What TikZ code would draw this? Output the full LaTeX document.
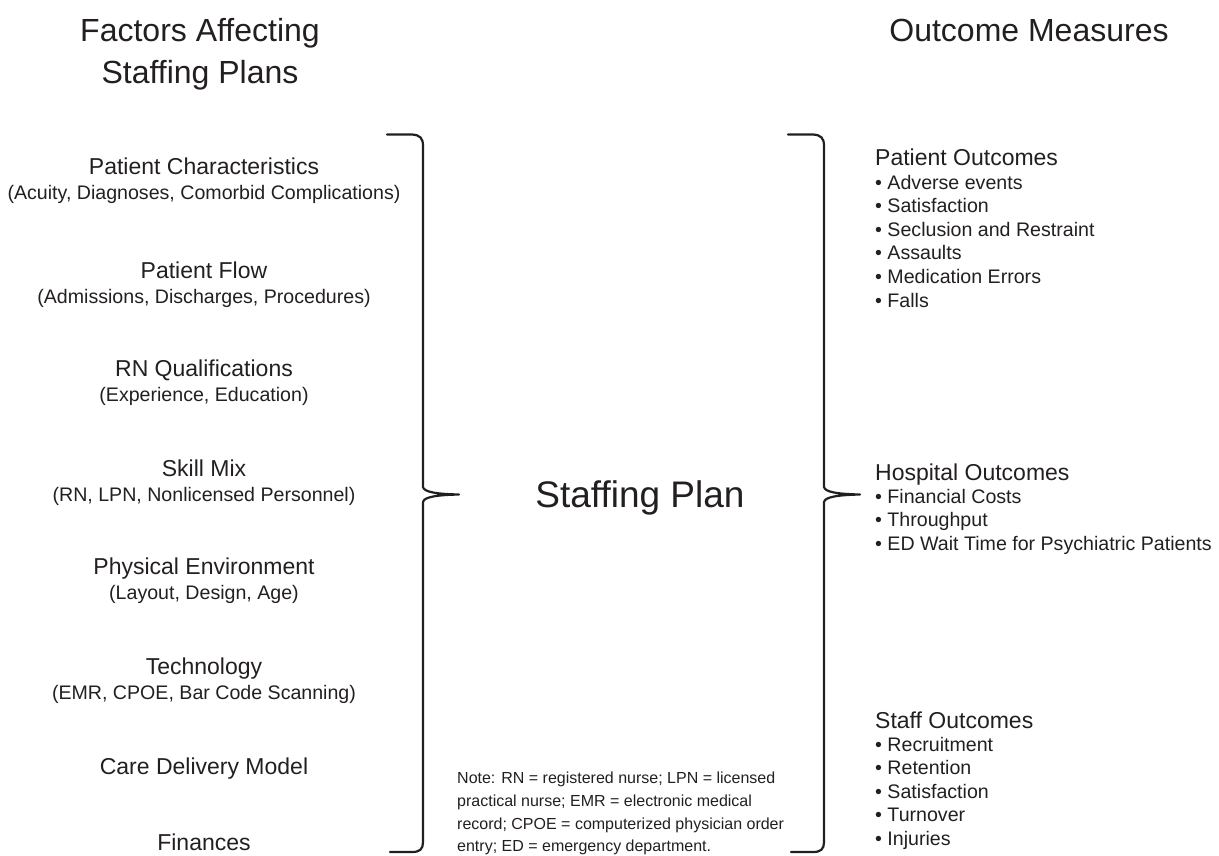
\documentclass[tikz,border=0pt]{standalone}
\usepackage{fontspec}
\setmainfont{Liberation Sans}
\definecolor{ink}{HTML}{231F20}
\begin{document}
\begin{tikzpicture}[x=1pt,y=-1pt,
  every node/.style={text=ink, inner sep=0pt},
  bigtitle/.style={font=\fontsize{32}{38}\selectfont, anchor=base},
  centretitle/.style={font=\fontsize{37}{44}\selectfont, anchor=base},
  factor/.style={font=\fontsize{23}{27}\selectfont, anchor=base},
  factordetail/.style={font=\fontsize{19.6}{23}\selectfont, anchor=base},
  outhead/.style={font=\fontsize{23}{27}\selectfont, anchor=base west},
  outitem/.style={font=\fontsize{19.6}{23}\selectfont, anchor=base west},
  noteline/.style={font=\fontsize{16}{19}\selectfont, anchor=base west},
  bracestroke/.style={draw=ink, line width=2.2pt, line join=round, line cap=round}]
\useasboundingbox (0,0) rectangle (1219,855);

% column headings
\node[bigtitle] (hfac1) at (200,41) {Factors Affecting};
\node[bigtitle] (hfac2) at (200,83) {Staffing Plans};
\node[bigtitle] (hout)  at (1029,41) {Outcome Measures};

% factors
\node[factor]       (pc)  at (204,174) {Patient Characteristics};
\node[factordetail] (pcd) at (204,199) {(Acuity, Diagnoses, Comorbid Complications)};
\node[factor]       (pf)  at (204,278) {Patient Flow};
\node[factordetail] (pfd) at (204,303) {(Admissions, Discharges, Procedures)};
\node[factor]       (rn)  at (204,376) {RN Qualifications};
\node[factordetail] (rnd) at (204,401) {(Experience, Education)};
\node[factor]       (sm)  at (204,476) {Skill Mix};
\node[factordetail] (smd) at (204,501) {(RN, LPN, Nonlicensed Personnel)};
\node[factor]       (pe)  at (204,574) {Physical Environment};
\node[factordetail] (ped) at (204,599) {(Layout, Design, Age)};
\node[factor]       (te)  at (204,674) {Technology};
\node[factordetail] (ted) at (204,699) {(EMR, CPOE, Bar Code Scanning)};
\node[factor]       (cd)  at (204,774) {Care Delivery Model};
\node[factor]       (fi)  at (204,850) {Finances};

% centre
\node[centretitle] (plan) at (640,507) {Staffing Plan};

% note
\node[noteline] (n1) at (457,783) {Note: RN = registered nurse; LPN = licensed};
\node[noteline] (n2) at (457,806) {practical nurse; EMR = electronic medical};
\node[noteline] (n3) at (457,829) {record; CPOE = computerized physician order};
\node[noteline] (n4) at (457,851) {entry; ED = emergency department.};

% outcomes
\node[outhead] (po) at (875,165) {Patient Outcomes};
\foreach \t [count=\i] in {Adverse events, Satisfaction, Seclusion and Restraint, Assaults, Medication Errors, Falls}
  \node[outitem] (po\i) at (875,{189+23.6*(\i-1)}) {• \t};

\node[outhead] (ho) at (875,480) {Hospital Outcomes};
\foreach \t [count=\i] in {Financial Costs, Throughput, ED Wait Time for Psychiatric Patients}
  \node[outitem] (ho\i) at (875,{503+23.6*(\i-1)}) {• \t};

\node[outhead] (so) at (875,728) {Staff Outcomes};
\foreach \t [count=\i] in {Recruitment, Retention, Satisfaction, Turnover, Injuries}
  \node[outitem] (so\i) at (875,{751+23.6*(\i-1)}) {• \t};

% braces
\foreach \dx in {0,401}
  \draw[bracestroke, xshift=\dx]
    (387,134.5) -- (412,134.5) .. controls (420,135) and (423,138) .. (423,146)
    -- (423,487) .. controls (424,492) and (436,494) .. (459,494.5)
    .. controls (436,495) and (424,497) .. (423,502)
    -- (423,842) .. controls (423,849) and (420,852) .. (412,852) -- (390,852);
\end{tikzpicture}
\end{document}
